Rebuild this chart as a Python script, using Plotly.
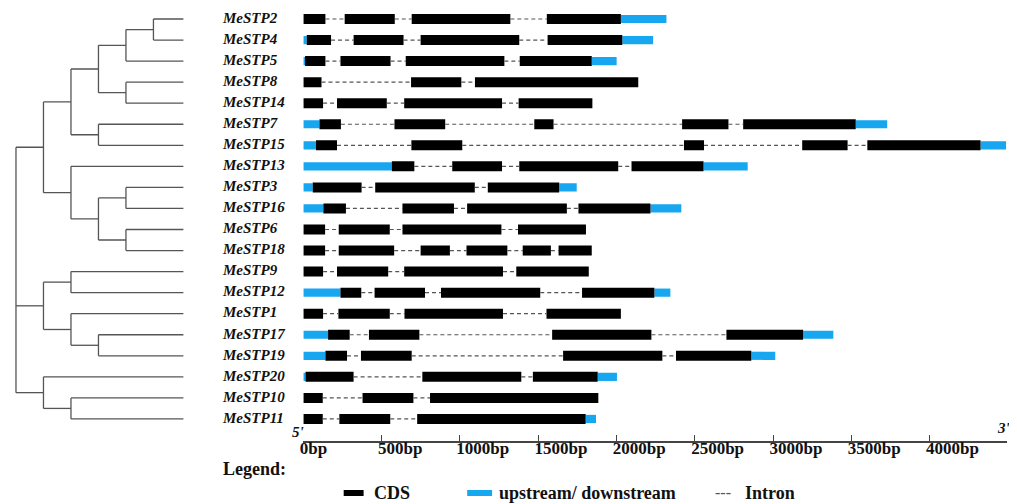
import plotly.graph_objects as go

# ---------------- data ----------------
GENES = ["MeSTP2", "MeSTP4", "MeSTP5", "MeSTP8", "MeSTP14", "MeSTP7", "MeSTP15",
         "MeSTP13", "MeSTP3", "MeSTP16", "MeSTP6", "MeSTP18", "MeSTP9", "MeSTP12",
         "MeSTP1", "MeSTP17", "MeSTP19", "MeSTP20", "MeSTP10", "MeSTP11"]

# CDS exons (start bp, end bp)
CDS = {
    "MeSTP2":  [(0, 141), (264, 584), (692, 1322), (1555, 2028)],
    "MeSTP4":  [(22, 177), (321, 640), (749, 1379), (1560, 2037)],
    "MeSTP5":  [(11, 141), (237, 557), (654, 1284), (1382, 1842)],
    "MeSTP8":  [(0, 116), (688, 1009), (1096, 2139)],
    "MeSTP14": [(0, 126), (215, 533), (644, 1269), (1375, 1846)],
    "MeSTP7":  [(103, 240), (582, 906), (1475, 1598), (2419, 2715), (2809, 3528)],
    "MeSTP15": [(81, 215), (690, 1015), (2431, 2559), (3186, 3476), (3602, 4325)],
    "MeSTP13": [(565, 709), (951, 1269), (1379, 2011), (2096, 2556)],
    "MeSTP3":  [(60, 372), (459, 1095), (1178, 1634)],
    "MeSTP16": [(128, 272), (633, 962), (1046, 1683), (1757, 2217)],
    "MeSTP6":  [(0, 139), (226, 552), (633, 1265), (1371, 1805)],
    "MeSTP18": [(0, 139), (226, 580), (749, 936), (1042, 1303), (1401, 1581), (1630, 1842)],
    "MeSTP9":  [(0, 126), (215, 542), (644, 1275), (1360, 1823)],
    "MeSTP12": [(237, 370), (455, 777), (879, 1513), (1780, 2242)],
    "MeSTP1":  [(0, 126), (224, 552), (646, 1275), (1553, 2028)],
    "MeSTP17": [(158, 296), (419, 741), (1589, 2223), (2702, 3192)],
    "MeSTP19": [(141, 279), (368, 692), (1659, 2293), (2380, 2861)],
    "MeSTP20": [(14, 321), (760, 1392), (1466, 1880)],
    "MeSTP10": [(0, 124), (378, 703), (809, 1884)],
    "MeSTP11": [(0, 124), (230, 555), (727, 1803)],
}

# upstream / downstream UTRs (start bp, end bp)
UTR = {
    "MeSTP2":  [(2028, 2319)],
    "MeSTP4":  [(0, 22), (2037, 2234)],
    "MeSTP5":  [(0, 11), (1842, 2001)],
    "MeSTP7":  [(0, 103), (3528, 3729)],
    "MeSTP15": [(0, 81), (4325, 4488)],
    "MeSTP13": [(0, 565), (2556, 2838)],
    "MeSTP3":  [(0, 60), (1634, 1746)],
    "MeSTP16": [(0, 128), (2217, 2414)],
    "MeSTP12": [(0, 237), (2242, 2344)],
    "MeSTP17": [(0, 158), (3192, 3385)],
    "MeSTP19": [(0, 141), (2861, 3014)],
    "MeSTP20": [(0, 14), (1880, 2003)],
    "MeSTP11": [(1803, 1869)],
}

# phylogenetic tree topology (cladogram)
TREE = (
    (
        ((((("MeSTP2", "MeSTP4"), "MeSTP5"), ("MeSTP8", "MeSTP14")), ("MeSTP7", "MeSTP15")),
         ("MeSTP13", (("MeSTP3", "MeSTP16"), ("MeSTP6", "MeSTP18"))))
    ),
    (("MeSTP9", "MeSTP12"), ("MeSTP1", ("MeSTP17", "MeSTP19"))),
    ("MeSTP20", ("MeSTP10", "MeSTP11")),
)

TICK_VALS = [0, 500, 1000, 1500, 2000, 2500, 3000, 3500, 4000]
TICK_TEXT = ["0bp", "500bp", "1000bp", "1500bp", "2000bp", "2500bp", "3000bp", "3500bp", "4000bp"]

# ---------------- layout constants (reference-window pixels) ----------------
OFF = 8                      # default page body margin
W, H = 1017 - OFF, 504 - OFF
ROW0_PX, ROW_PX = 19, 21.05
AXIS_PX = 441
LEVEL0_PX, LEVEL_PX = 12, 27.6
TIP_LEVEL = 6.09
LABEL_LEVEL = 7.53
TREE_END_PX = 295
GENE_X0_PX, GENE_X1_PX = 300.5, 1007
BP_PER_PX = 1 / 0.1572
SERIF = "Liberation Serif"
BLUE = "#17a6f0"


def px(x):
    return (x - OFF) / W


def py(y):
    return 1 - (y - OFF) / H


row = {g: i for i, g in enumerate(GENES)}

# ---------------- tree lines ----------------
tx, ty = [], []


def walk(node, depth):
    if isinstance(node, str):
        return row[node], TIP_LEVEL
    kids = [walk(c, depth + 1) for c in node]
    ys = [k[0] for k in kids]
    for (cy, cx) in kids:
        tx.extend([depth, cx, None])
        ty.extend([cy, cy, None])
    tx.extend([depth, depth, None])
    ty.extend([min(ys), max(ys), None])
    return (min(ys) + max(ys)) / 2, depth


walk(TREE, 0)

fig = go.Figure()
fig.add_trace(go.Scatter(x=tx, y=ty, mode="lines", xaxis="x", yaxis="y",
                         line=dict(color="#555555", width=1.3), hoverinfo="skip"))

# gene labels
fig.add_trace(go.Scatter(
    x=[LABEL_LEVEL] * len(GENES), y=list(range(len(GENES))), text=GENES,
    mode="text", textposition="middle right", cliponaxis=False, xaxis="x", yaxis="y",
    textfont=dict(family=SERIF, size=15, color="#111111", weight="bold", style="italic"),
    hoverinfo="skip"))

# introns
ix, iy = [], []
for g in GENES:
    segs = sorted(CDS.get(g, []) + UTR.get(g, []))
    for (s0, e0), (s1, e1) in zip(segs[:-1], segs[1:]):
        if s1 > e0:
            ix.extend([e0, s1, None])
            iy.extend([row[g], row[g], None])
fig.add_trace(go.Scatter(x=ix, y=iy, mode="lines", xaxis="x2", yaxis="y",
                         line=dict(color="#555555", width=1.2, dash="4px,3px"),
                         hoverinfo="skip"))

# UTR bars
ub, ul, uy = [], [], []
for g, segs in UTR.items():
    for s, e in segs:
        ub.append(s); ul.append(e - s); uy.append(row[g])
fig.add_trace(go.Bar(base=ub, x=ul, y=uy, orientation="h", width=0.39,
                     marker=dict(color=BLUE, line=dict(width=0)),
                     xaxis="x2", yaxis="y", hoverinfo="skip"))

# CDS bars
cb, cl, cy = [], [], []
for g, segs in CDS.items():
    for s, e in segs:
        cb.append(s); cl.append(e - s); cy.append(row[g])
fig.add_trace(go.Bar(base=cb, x=cl, y=cy, orientation="h", width=0.475,
                     marker=dict(color="#000000", line=dict(width=0)),
                     xaxis="x2", yaxis="y", hoverinfo="skip"))

fig.update_layout(
    width=W, height=H, margin=dict(l=0, r=0, t=0, b=0),
    paper_bgcolor="white", plot_bgcolor="white", showlegend=False,
    barmode="overlay",
    xaxis=dict(domain=[0, px(TREE_END_PX)], visible=False,
               range=[(OFF - LEVEL0_PX) / LEVEL_PX, (TREE_END_PX - LEVEL0_PX) / LEVEL_PX]),
    xaxis2=dict(domain=[px(GENE_X0_PX), px(GENE_X1_PX)], anchor="y",
                range=[0, (GENE_X1_PX - GENE_X0_PX) * BP_PER_PX],
                showgrid=False, zeroline=False, showline=True,
                linecolor="#444444", linewidth=1.5,
                ticks="inside", ticklen=6, tickcolor="#444444", tickwidth=1.2,
                tickvals=TICK_VALS, ticktext=TICK_TEXT,
                ticklabelposition="outside right", ticklabelshift=-5,
                ticklabelstandoff=-9,
                tickfont=dict(family=SERIF, size=17, color="#111111", weight="bold")),
    yaxis=dict(domain=[py(AXIS_PX), 1], visible=False,
               range=[(AXIS_PX - ROW0_PX) / ROW_PX, (OFF - ROW0_PX) / ROW_PX]),
)


def ann(text, xpx, ypx, size, italic=False, bold=True, color="#111111"):
    fig.add_annotation(text=text, x=px(xpx), y=py(ypx), xref="paper", yref="paper",
                       xanchor="left", yanchor="middle", showarrow=False,
                       font=dict(family=SERIF, size=size, color=color,
                                 weight="bold" if bold else "normal",
                                 style="italic" if italic else "normal"))


ann("5'", 287, 432, 15, italic=True)
ann("3'", 995, 428, 15, italic=True)
ann("Legend:", 218, 469, 18)
ann("CDS", 369, 493, 18)
ann("upstream/ downstream", 495, 493, 18)
ann("---", 712, 492, 16, bold=False, color="#555555")
ann("Intron", 742, 493, 18)

fig.add_shape(type="rect", xref="paper", yref="paper", x0=px(341), x1=px(361),
              y0=py(496), y1=py(490), fillcolor="#000000", line=dict(width=0))
fig.add_shape(type="rect", xref="paper", yref="paper", x0=px(465), x1=px(490),
              y0=py(496), y1=py(490), fillcolor=BLUE, line=dict(width=0))

fig.write_html("out.html")
